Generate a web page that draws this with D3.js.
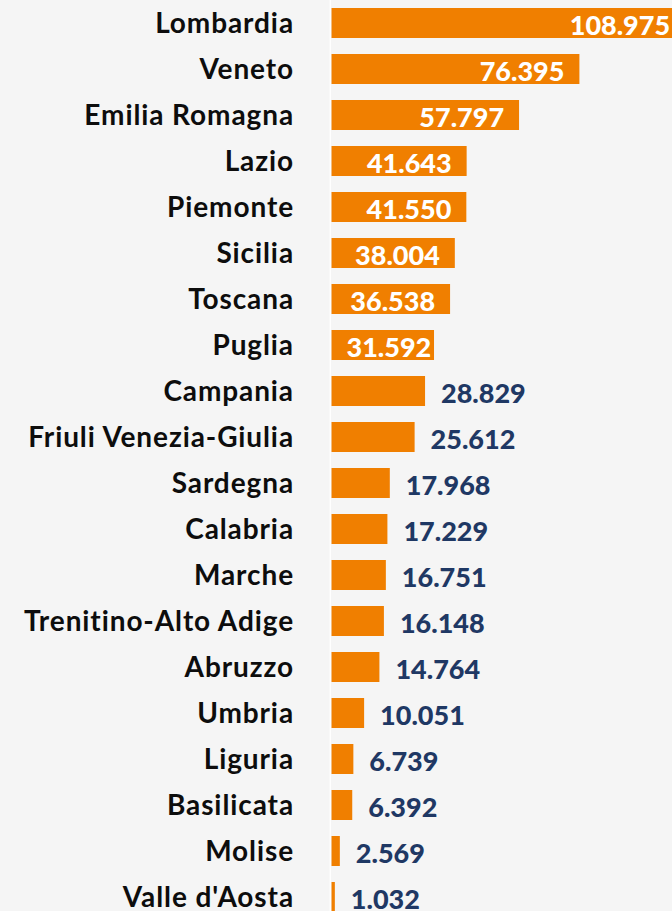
<!DOCTYPE html>
<html lang="it">
<head>
  <meta charset="utf-8">
  <title>Regioni</title>
  <style>
    html, body { margin: 0; padding: 0; background: #f5f5f5; overflow: hidden; }
    svg { display: block; font-family: Lato, "Open Sans", sans-serif; font-weight: 700; font-variant-ligatures: none; }
  </style>
</head>
<body>
  <script src="https://cdnjs.cloudflare.com/ajax/libs/d3/7.8.5/d3.min.js"></script>
  <script>
  const regions = ["Lombardia", "Veneto", "Emilia Romagna", "Lazio", "Piemonte", "Sicilia", "Toscana", "Puglia",
    "Campania", "Friuli Venezia-Giulia", "Sardegna", "Calabria", "Marche", "Trenitino-Alto Adige",
    "Abruzzo", "Umbria", "Liguria", "Basilicata", "Molise", "Valle d'Aosta"];
  const values = [108975, 76395, 57797, 41643, 41550, 38004, 36538, 31592,
    28829, 25612, 17968, 17229, 16751, 16148, 14764, 10051, 6739, 6392, 2569, 1032];
  // first n labels sit inside the bar in white
  const insideCount = 8;

  const width = 672;
  const height = 911;
  const axisX = 331.5;
  const labelRight = 294;

  const it = d3.formatLocale({ decimal: ",", thousands: ".", grouping: [3], currency: ["€", ""] });
  const fmt = it.format(",d");

  const svg = d3.select("body").append("svg")
    .attr("width", width)
    .attr("height", height);

  const x = d3.scaleLinear()
    .domain([0, 100000])
    .range([axisX, axisX + 324.5]);

  const y = d3.scaleBand()
    .domain(regions)
    .range([0, 46 * regions.length])
    .paddingInner(16 / 46)
    .paddingOuter(8 / 46);

  const data = regions.map((r, i) => ({ region: r, value: values[i], inside: i < insideCount }));

  svg.append("g")
    .selectAll("rect")
    .data(data)
    .join("rect")
    .attr("x", x(0))
    .attr("y", d => y(d.region))
    .attr("width", d => x(d.value) - x(0))
    .attr("height", y.bandwidth())
    .attr("fill", "#f07f00");

  // axis line
  svg.append("line")
    .attr("x1", axisX - 1.2).attr("x2", axisX - 1.2)
    .attr("y1", 0).attr("y2", height)
    .attr("stroke", "#ffffff")
    .attr("stroke-width", 1.5);

  svg.append("g")
    .selectAll("text")
    .data(data)
    .join("text")
    .attr("x", labelRight)
    .attr("y", d => y(d.region) + y.bandwidth() / 2 + 10)
    .attr("text-anchor", "end")
    .attr("font-size", 28)
    .attr("letter-spacing", 0.9)
    .attr("fill", "#0d0d0d")
    .text(d => d.region);

  const vals = svg.append("g")
    .selectAll("text")
    .data(data)
    .join("text")
    .attr("y", d => y(d.region) + y.bandwidth() / 2 + 12)
    .attr("font-size", 27)
    .attr("font-weight", 900)
    .attr("fill", d => d.inside ? "#ffffff" : "#1f3864")
    .text(d => fmt(d.value));

  vals.each(function(d) {
    const t = d3.select(this);
    if (d.inside) {
      const w = this.getComputedTextLength();
      const right = Math.max(x(d.value) - 15, x(0) + 15 + w);
      t.attr("x", right).attr("text-anchor", "end");
    } else {
      t.attr("x", x(d.value) + 16).attr("text-anchor", "start");
    }
  });
  </script>
</body>
</html>
